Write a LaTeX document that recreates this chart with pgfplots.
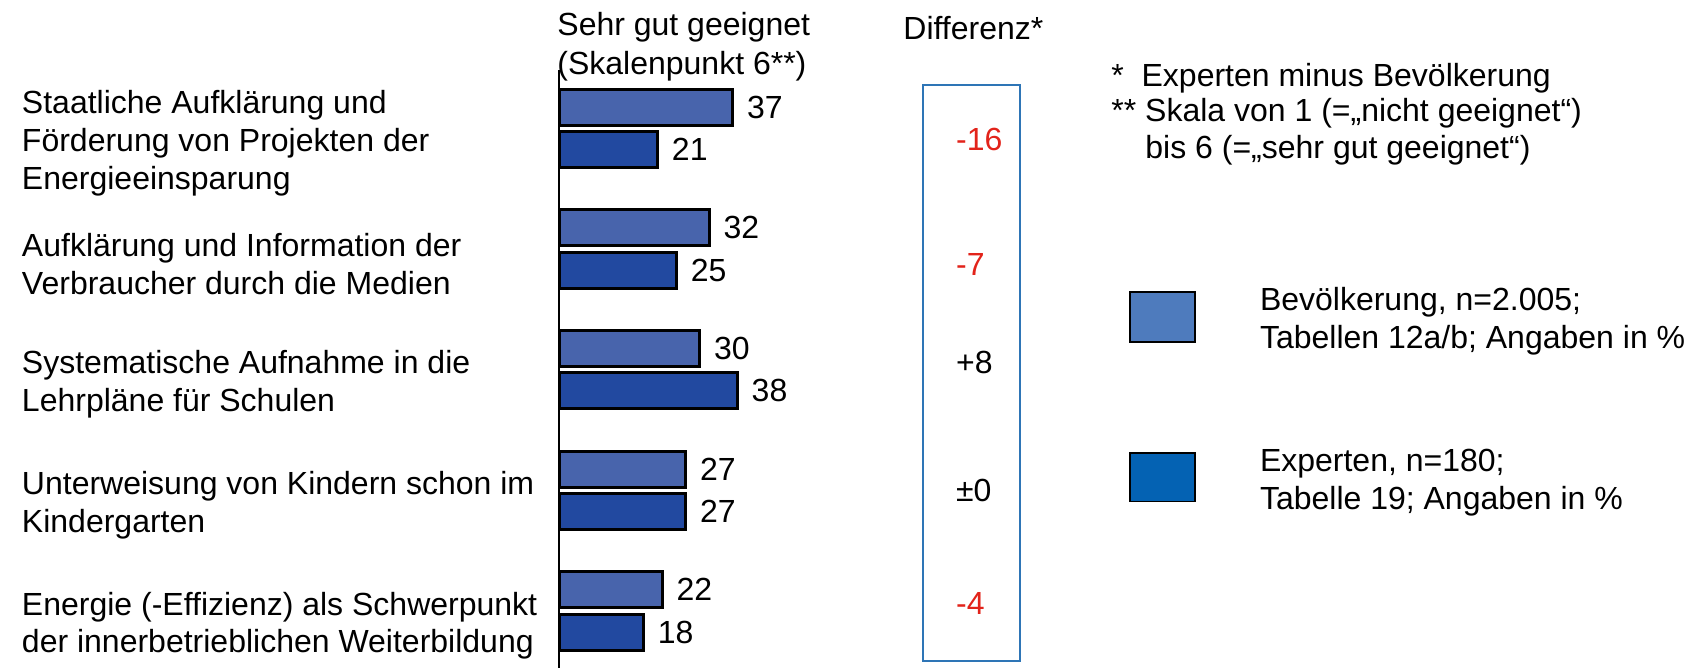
\documentclass[border=0pt]{standalone}
\usepackage{fontspec}
\setmainfont{Liberation Sans}
\usepackage{pgfplots}
\pgfplotsset{compat=1.18}
\definecolor{bevbar}{HTML}{4864AC}
\definecolor{expbar}{HTML}{2249A0}
\definecolor{bevleg}{HTML}{4E7BBD}
\definecolor{expleg}{HTML}{0462B3}
\definecolor{diffbox}{HTML}{2E75B6}
\definecolor{diffred}{HTML}{E2231A}
\newcommand\fs{\fontsize{16pt}{18.9pt}\selectfont}
\begin{document}
\begin{tikzpicture}[x=1pt,y=1pt]
\useasboundingbox (0,0) rectangle (845.5,334);
\begin{axis}[
  at={(279.5pt,299pt)}, anchor=north west,
  x=2.345pt, y=60.3pt, y dir=reverse,
  xmin=0, xmax=60, ymin=-0.485, ymax=4.474,
  hide x axis,
  axis y line*=left,
  y axis line style={line width=1.2pt,-},
  ytick={0,1,2,3,4},
  ytick style={draw=none},
  yticklabels={{Staatliche Aufklärung und\\Förderung von Projekten der\\Energieeinsparung},
    {Aufklärung und Information der\\Verbraucher durch die Medien},
    {Systematische Aufnahme in die\\Lehrpläne für Schulen},
    {Unterweisung von Kindern schon im\\Kindergarten},
    {Energie (-Effizienz) als Schwerpunkt\\der innerbetrieblichen Weiterbildung}},
  yticklabel style={anchor=west, align=left, inner sep=0pt, xshift=-268.7pt, yshift=-7.4pt, font=\fs},
  /pgf/number format/assume math mode=true,
  clip=false,
  point meta=x,
  nodes near coords,
  nodes near coords style={anchor=west, inner sep=0pt, xshift=6.5pt, font=\fs, text=black},
]
\addplot[xbar, bar width=18pt, bar shift=10.6pt, fill=bevbar, draw=black, line width=1.5pt,
  every node near coord/.append style={yshift=10.6pt}]
  coordinates {(37,0) (32,1) (30,2) (27,3) (22,4)};
\addplot[xbar, bar width=18pt, bar shift=-10.6pt, fill=expbar, draw=black, line width=1.5pt,
  every node near coord/.append style={yshift=-10.6pt}]
  coordinates {(21,0) (25,1) (38,2) (27,3) (18,4)};
\node[anchor=west, inner sep=0pt, font=\fs, text=diffred] at (axis cs:84.6,0.095) {-16};
\node[anchor=west, inner sep=0pt, font=\fs, text=diffred] at (axis cs:84.6,1.13) {-7};
\node[anchor=west, inner sep=0pt, font=\fs] at (axis cs:84.6,1.94) {+8};
\node[anchor=west, inner sep=0pt, font=\fs] at (axis cs:84.6,3.0) {±0};
\node[anchor=west, inner sep=0pt, font=\fs, text=diffred] at (axis cs:84.6,3.94) {-4};
\end{axis}
% difference box
\draw[diffbox, line width=0.6pt] (461.5,3.5) rectangle (510,291.5);
% headers
\node[anchor=west, inner sep=0pt, font=\fs] at (278.5,320.4) {Sehr gut geeignet};
\node[anchor=west, inner sep=0pt, font=\fs] at (278.5,301) {(Skalenpunkt 6**)};
\node[anchor=west, inner sep=0pt, font=\fs] at (451.5,320) {Differenz*};
% footnotes
\node[anchor=west, inner sep=0pt, font=\fs] at (555.5,295) {*\ \ Experten minus Bevölkerung};
\node[anchor=west, inner sep=0pt, font=\fs] at (555.5,277.4) {** Skala von 1 (=„nicht geeignet“)};
\node[anchor=west, inner sep=0pt, font=\fs] at (572.5,259) {bis 6 (=„sehr gut geeignet“)};
% legend
\filldraw[fill=bevleg, draw=black, line width=0.8pt] (565,163.1) rectangle (597.4,187.9);
\node[anchor=west, align=left, inner sep=0pt, font=\fs] at (629.8,173.3) {Bevölkerung, n=2.005;\\Tabellen 12a/b; Angaben in \%};
\filldraw[fill=expleg, draw=black, line width=0.8pt] (565,83.3) rectangle (597.4,107.5);
\node[anchor=west, align=left, inner sep=0pt, font=\fs] at (629.8,92.8) {Experten, n=180;\\Tabelle 19; Angaben in \%};
\end{tikzpicture}
\end{document}
